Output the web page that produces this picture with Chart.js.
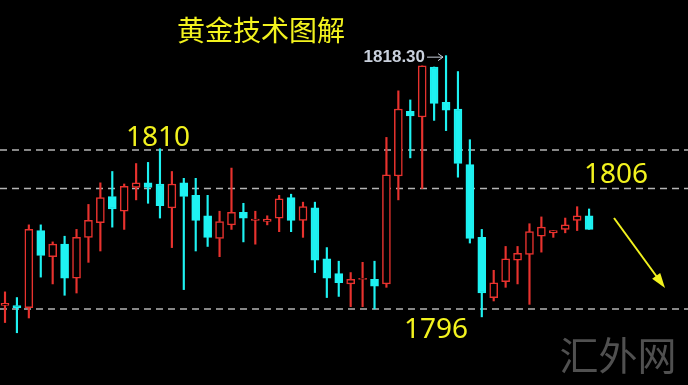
<!DOCTYPE html>
<html>
<head>
<meta charset="utf-8">
<script src="https://cdn.jsdelivr.net/npm/chart.js@4/dist/chart.umd.min.js"></script>
<style>
  html, body { margin: 0; padding: 0; background: #000; }
  canvas { display: block; }
</style>
</head>
<body>
<canvas id="goldChart" width="688" height="385"></canvas>
<script>
// candle values (one entry per bar)
const open  = [1796.3, 1796.3, 1796.1, 1802.9, 1800.6, 1801.7, 1798.7, 1802.3, 1803.6, 1805.9,
               1804.6, 1806.7, 1807.1, 1807.0, 1804.9, 1807.1, 1806.0, 1804.2, 1802.2, 1803.4,
               1804.5, 1803.8, 1803.7, 1804.0, 1805.8, 1803.8, 1804.9, 1800.4, 1799.1, 1798.2,
               1798.6, 1798.6, 1798.2, 1807.7, 1813.4, 1812.9, 1817.3, 1814.2, 1813.6, 1808.7,
               1802.3, 1797.0, 1798.4, 1800.3, 1800.8, 1802.4, 1802.7, 1803.0, 1803.8, 1804.2];
const high  = [1797.5, 1797.0, 1803.4, 1803.4, 1801.9, 1802.4, 1803.0, 1805.2, 1807.1, 1808.1,
               1807.0, 1808.8, 1808.9, 1810.1, 1808.1, 1807.5, 1807.5, 1806.0, 1804.6, 1808.4,
               1805.3, 1804.6, 1804.2, 1806.0, 1806.1, 1805.4, 1805.4, 1801.4, 1800.2, 1799.2,
               1800.1, 1800.2, 1811.1, 1815.2, 1814.4, 1817.4, 1817.3, 1818.3, 1816.9, 1810.9,
               1803.0, 1799.4, 1801.5, 1801.5, 1803.5, 1804.1, 1802.9, 1804.0, 1805.0, 1804.8];
const low   = [1794.8, 1793.9, 1795.2, 1798.8, 1798.2, 1797.2, 1797.4, 1800.1, 1801.1, 1803.2,
               1803.0, 1805.6, 1805.3, 1804.0, 1801.4, 1797.7, 1801.1, 1801.5, 1800.6, 1803.0,
               1801.9, 1801.7, 1803.4, 1802.8, 1802.8, 1802.3, 1799.2, 1797.0, 1797.1, 1796.2,
               1796.2, 1796.0, 1797.9, 1805.6, 1809.3, 1806.6, 1812.6, 1811.7, 1807.6, 1801.8,
               1795.3, 1796.7, 1797.9, 1798.2, 1796.4, 1801.0, 1802.3, 1802.7, 1802.9, 1803.0];
const close = [1796.5, 1796.1, 1803.0, 1800.7, 1801.7, 1798.7, 1802.3, 1803.8, 1805.8, 1804.8,
               1806.8, 1807.1, 1806.7, 1805.1, 1807.0, 1805.9, 1803.8, 1802.3, 1803.7, 1804.5,
               1804.0, 1803.9, 1803.9, 1805.7, 1803.8, 1805.0, 1800.3, 1798.7, 1798.3, 1798.6,
               1798.7, 1798.0, 1807.8, 1813.6, 1813.0, 1817.4, 1814.1, 1813.5, 1808.8, 1802.2,
               1797.4, 1798.3, 1800.4, 1800.9, 1802.8, 1803.2, 1802.9, 1803.4, 1804.2, 1803.0];

// dashed reference levels and their labels
const levels      = [1810, 1806.6, 1796];
const levelLabels = ["1810", "1806", "1796"];
const peakLabel   = "1818.30";
const title       = "黄金技术图解";
const watermark   = "汇外网";

const RED = "#e8322e";
const CYAN = "#1ef2f2";
const YELLOW = "#f2f21e";

const isUp = open.map((o, i) => close[i] >= o);
const xMin = -0.42, xMax = 57.3;

const bodies = open.map((o, i) => ({ x: i, y: [Math.min(o, close[i]), Math.max(o, close[i])] }));
const upperWicks = open.map((o, i) => ({ x: i, y: [Math.max(o, close[i]), high[i]] }));
const lowerWicks = open.map((o, i) => ({ x: i, y: [low[i], Math.min(o, close[i])] }));
const wickColors = isUp.map(u => (u ? RED : CYAN));

const levelSets = levels.map(v => ({
  type: "line",
  data: [{ x: xMin, y: v }, { x: xMax, y: v }],
  borderColor: "#b4b4b4",
  borderWidth: 1.5,
  borderDash: [7, 5],
  pointRadius: 0,
}));

// texts, arrows and background
const overlay = {
  id: "overlay",
  beforeDraw(chart) {
    const c = chart.ctx;
    c.save();
    c.fillStyle = "#000";
    c.fillRect(0, 0, chart.width, chart.height);
    c.restore();
  },
  afterDraw(chart) {
    const c = chart.ctx;
    const xs = chart.scales.x, ys = chart.scales.y;
    c.save();

    c.fillStyle = YELLOW;
    c.textBaseline = "middle";
    c.textAlign = "center";
    c.font = "28px 'Noto Sans CJK SC'";
    c.fillText(title, 261, 30);

    c.textBaseline = "alphabetic";
    c.textAlign = "left";
    c.font = "28px 'Noto Sans'";
    c.fillText(levelLabels[0], 126, 146);
    c.fillText(levelLabels[1], 584, 183);
    c.fillText(levelLabels[2], 404, 338);

    // peak marker
    const pk = high.indexOf(Math.max(...high));
    const px = xs.getPixelForValue(pk);
    const py = ys.getPixelForValue(high[pk]);
    c.fillStyle = "#c9d0dc";
    c.strokeStyle = "#c9d0dc";
    c.font = "bold 17px 'Liberation Sans'";
    c.textAlign = "right";
    c.textBaseline = "middle";
    c.fillText(peakLabel, px - 21, py + 2);
    c.lineWidth = 1;
    c.beginPath();
    c.moveTo(px - 19, py + 1.5);
    c.lineTo(px - 3, py + 1.5);
    c.moveTo(px - 8, py - 2);
    c.lineTo(px - 3, py + 1.5);
    c.lineTo(px - 8, py + 5);
    c.stroke();

    // down arrow
    const x1 = 614, y1 = 218, x2 = 665, y2 = 288;
    const a = Math.atan2(y2 - y1, x2 - x1);
    c.strokeStyle = YELLOW;
    c.fillStyle = YELLOW;
    c.lineWidth = 2;
    c.beginPath();
    c.moveTo(x1, y1);
    c.lineTo(x2 - 8 * Math.cos(a), y2 - 8 * Math.sin(a));
    c.stroke();
    c.beginPath();
    c.moveTo(x2, y2);
    c.lineTo(x2 - 15 * Math.cos(a) + 5 * Math.sin(a), y2 - 15 * Math.sin(a) - 5 * Math.cos(a));
    c.lineTo(x2 - 15 * Math.cos(a) - 5 * Math.sin(a), y2 - 15 * Math.sin(a) + 5 * Math.cos(a));
    c.closePath();
    c.fill();

    // watermark
    c.fillStyle = "#505050";
    c.font = "39px 'Noto Sans CJK SC'";
    c.textAlign = "center";
    c.textBaseline = "middle";
    c.fillText(watermark, 618, 355);

    c.restore();
  },
};

new Chart(document.getElementById("goldChart"), {
  type: "bar",
  data: {
    datasets: [
      {
        data: bodies,
        backgroundColor: isUp.map(u => (u ? "#000" : CYAN)),
        borderColor: isUp.map(u => (u ? RED : CYAN)),
        borderWidth: 1.5,
        borderSkipped: false,
        barThickness: 8,
        grouped: false,
        minBarLength: 1,
      },
      { data: upperWicks, backgroundColor: wickColors, barThickness: 1.5, grouped: false },
      { data: lowerWicks, backgroundColor: wickColors, barThickness: 1.5, grouped: false },
      ...levelSets,
    ],
  },
  options: {
    responsive: false,
    animation: false,
    devicePixelRatio: 1,
    layout: { padding: 0 },
    plugins: { legend: { display: false }, tooltip: { enabled: false } },
    scales: {
      x: { type: "linear", min: xMin, max: xMax, offset: false, display: false },
      y: { min: 1789.3, max: 1823.2, display: false },
    },
  },
  plugins: [overlay],
});
</script>
</body>
</html>
